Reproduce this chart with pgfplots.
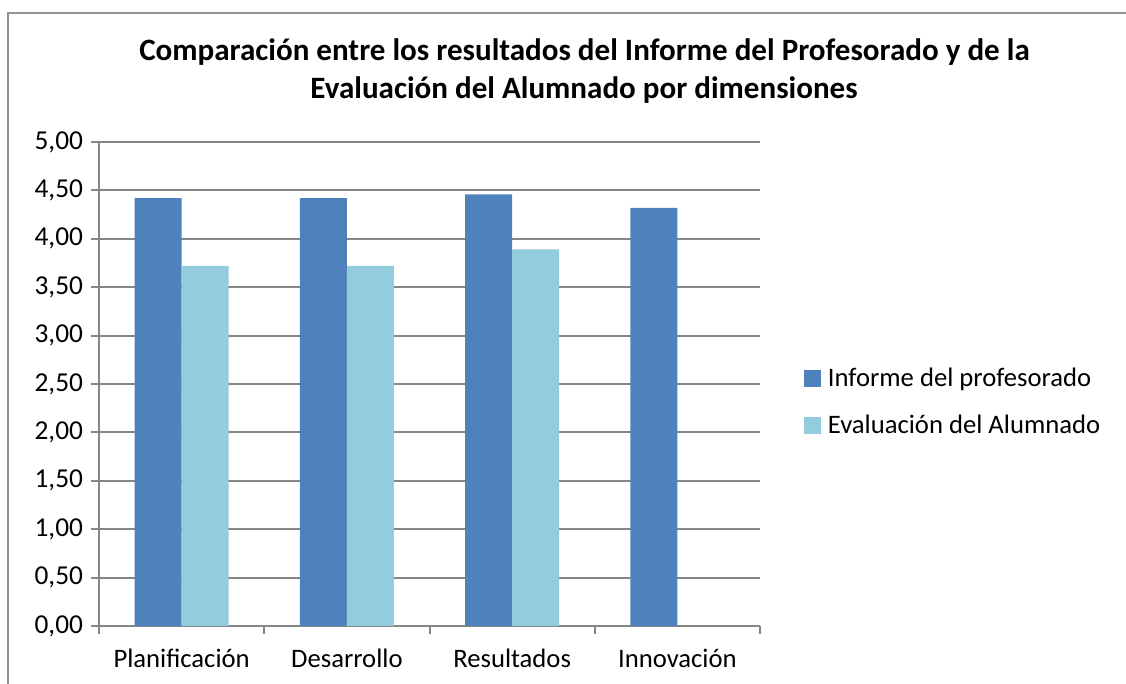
\documentclass[border=0pt]{standalone}
\usepackage{pgfplots}
\pgfplotsset{compat=1.18}
\usepackage{fontspec}
\setmainfont{Carlito}
\definecolor{prof}{HTML}{4F81BD}
\definecolor{alum}{HTML}{93CDDD}
\definecolor{gridg}{HTML}{868686}
\begin{document}
\begin{tikzpicture}[x=0.75pt,y=0.75pt]
\useasboundingbox (0,0) rectangle (1126,684);
\draw[gridg!90, line width=1.5pt] (7.5,-10) -- (7.5,671) -- (1140,671);
\node[font=\bfseries\fontsize{23.3}{28}\selectfont] at (584.5,632) {Comparación entre los resultados del Informe del Profesorado y de la};
\node[font=\bfseries\fontsize{23.3}{28}\selectfont] at (584,594) {Evaluación del Alumnado por dimensiones};
\begin{axis}[
  at={(74.25pt,43.5pt)}, anchor=south west,
  scale only axis, width=495.75pt, height=363pt,
  ybar=0pt, bar width=35.25pt,
  xmin=-0.5, xmax=3.5, ymin=0, ymax=5,
  xtick={0,1,2,3},
  xticklabels={Planificación,Desarrollo,Resultados,Innovación},
  minor xtick={-0.5,0.5,1.5,2.5,3.5},
  ytick={0,0.5,...,5},
  axis lines*=left,
  axis line style={gridg, line width=1.5pt},
  ymajorgrids, grid style={gridg, line width=1.5pt},
  major x tick style={draw=none},
  minor x tick style={gridg, line width=1.5pt},
  y tick style={gridg, line width=1.5pt},
  tick align=outside, major tick length=6pt, minor tick length=6pt,
  xticklabel style={font=\fontsize{20}{24}\selectfont, yshift=-8pt},
  yticklabel style={font=\fontsize{20.5}{24}\selectfont, xshift=-2.5pt},
  /pgf/number format/.cd, fixed, fixed zerofill, precision=2, use comma, assume math mode=true,
  /pgfplots/.cd,
  legend style={draw=none, fill=none, at={(1.066,0.463)}, anchor=west,
    font=\fontsize{20}{24}\selectfont, row sep=16pt, inner sep=0pt,
    /tikz/every odd column/.append style={column sep=3pt}},
  legend cell align=left,
  legend image code/.code={\fill[#1] (0pt,-6.4pt) rectangle (13pt,6.4pt);},
]
\addplot[fill=prof, draw=none] coordinates {(0,4.42) (1,4.42) (2,4.46) (3,4.32)};
\addplot[fill=alum, draw=none] coordinates {(0,3.72) (1,3.72) (2,3.89)};
\addlegendentry{Informe del profesorado}
\addlegendentry{Evaluación del Alumnado}
\end{axis}
\end{tikzpicture}
\end{document}
